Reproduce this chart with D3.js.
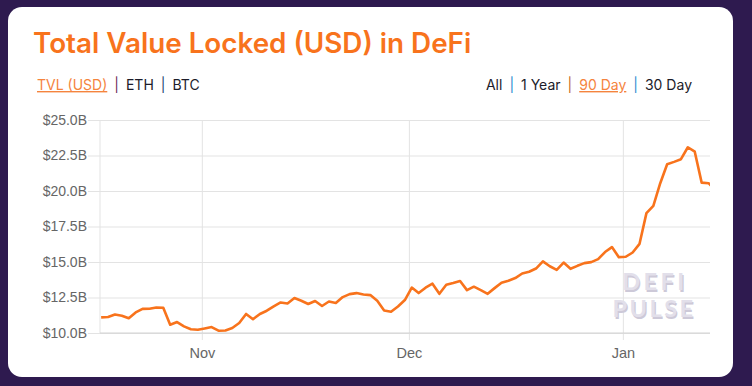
<!DOCTYPE html>
<html>
<head>
<meta charset="utf-8">
<script src="https://cdn.jsdelivr.net/npm/d3@7"></script>
<style>
  html, body { margin: 0; padding: 0; background: #2e1a4f; }
  svg { display: block; }
</style>
</head>
<body>
<svg id="chart-svg"></svg>
<script>
// Total value locked in DeFi, billions USD, one reading per day from Oct 17 2020
const firstDay = Date.UTC(2020, 9, 17, 10)
const tvl = [
  11.10, 11.13, 11.30, 11.22, 11.04, 11.45, 11.70, 11.71, 11.80, 11.78,
  10.58, 10.77, 10.47, 10.26, 10.23, 10.32, 10.42, 10.16, 10.18, 10.35,
  10.70, 11.34, 10.97, 11.34, 11.57, 11.88, 12.15, 12.08, 12.46, 12.27,
  12.04, 12.25, 11.90, 12.22, 12.11, 12.53, 12.74, 12.81, 12.71, 12.67,
  12.27, 11.59, 11.50, 11.87, 12.32, 13.20, 12.81, 13.19, 13.47, 12.76,
  13.40, 13.52, 13.66, 13.02, 13.26, 13.02, 12.76, 13.16, 13.54, 13.68,
  13.87, 14.19, 14.31, 14.54, 15.04, 14.70, 14.45, 14.96, 14.52, 14.73,
  14.92, 14.99, 15.20, 15.70, 16.05, 15.34, 15.37, 15.67, 16.28, 18.44,
  18.95, 20.55, 21.88, 22.05, 22.24, 23.08, 22.77, 20.59, 20.55, 20.05
]
const yTicks = [10, 12.5, 15, 17.5, 20, 22.5, 25]
const monthTicks = [Date.UTC(2020, 10, 1), Date.UTC(2020, 11, 1), Date.UTC(2021, 0, 1)]
const monthLabels = ['Nov', 'Dec', 'Jan']
const currencyLinks = ['TVL (USD)', 'ETH', 'BTC']
const rangeLinks = ['All', '1 Year', '90 Day', '30 Day']

const W = 752, H = 386
const Margin = { Top: 120, Bottom: 333, Left: 100, Right: 710 }
const orange = '#f8731c'

const data = tvl.map((v, i) => ({ date: new Date(firstDay + i * 864e5), value: v }))

const svg = d3.select('#chart-svg').attr('width', W).attr('height', H)

// card
svg.append('rect')
  .attr('x', 8).attr('y', 7).attr('width', 725).attr('height', 370)
  .attr('rx', 14).attr('fill', '#fff')

// title
svg.append('text')
  .attr('x', 33).attr('y', 53)
  .style('font-family', 'Inter, sans-serif').style('font-weight', 600).style('font-size', '27.8px')
  .attr('fill', orange)
  .text('Total Value Locked (USD) in DeFi')

// link rows
function linkRow(items, x, anchor, active, sepColors) {
  const t = svg.append('text')
    .attr('x', x).attr('y', 90)
    .attr('text-anchor', anchor)
    .style('font-family', 'Inter, sans-serif').style('font-size', '14px')
    .style('white-space', 'pre')
  items.forEach((s, i) => {
    if (i > 0) {
      t.append('tspan').attr('fill', sepColors[i - 1]).text('\u2002|\u2002')
    }
    t.append('tspan')
      .attr('fill', i === active ? '#f5843e' : '#1c1c2a')
      .style('text-decoration', i === active ? 'underline' : 'none')
      .text(s)
  })
}
linkRow(currencyLinks, 37, 'start', 0, ['#6b2b5c', '#233a6e'])
linkRow(rangeLinks, 692, 'end', 2, ['#2a8bd0', '#c46a1e', '#2a8bd0'])

const x = d3.scaleUtc()
  .domain([Date.UTC(2020, 9, 17, 6), Date.UTC(2021, 0, 13, 15)])
  .range([Margin.Left, Margin.Right])

const y = d3.scaleLinear()
  .domain([10, 25])
  .range([Margin.Bottom, Margin.Top])

// y grid + labels
const yAxis = svg.append('g')
  .attr('transform', 'translate(' + Margin.Right + ',0)')
  .call(d3.axisLeft(y).tickValues(yTicks).tickSize(Margin.Right - 88).tickPadding(1)
    .tickFormat(d => '$' + d3.format('.1f')(d) + 'B'))
yAxis.select('.domain').remove()
yAxis.selectAll('line').attr('stroke', '#e3e3e3').attr('stroke-width', 1)
yAxis.selectAll('text')
  .attr('fill', '#666').style('font-family', 'Liberation Sans, Arial, sans-serif').style('font-size', '14px')

// x grid + labels
const xAxis = svg.append('g')
  .attr('transform', 'translate(0,' + Margin.Top + ')')
  .call(d3.axisBottom(x).tickValues(monthTicks).tickSize(Margin.Bottom - Margin.Top + 7).tickPadding(8)
    .tickFormat((d, i) => monthLabels[i]))
xAxis.select('.domain').remove()
xAxis.selectAll('line').attr('stroke', '#e3e3e3')
xAxis.selectAll('text')
  .attr('fill', '#666').style('font-family', 'Liberation Sans, Arial, sans-serif').style('font-size', '14.5px')

// left and bottom axis lines
svg.append('line')
  .attr('x1', Margin.Left).attr('x2', Margin.Left).attr('y1', Margin.Top).attr('y2', Margin.Bottom)
  .attr('stroke', '#e3e3e3')
svg.append('line')
  .attr('x1', Margin.Left).attr('x2', Margin.Right).attr('y1', y(10)).attr('y2', y(10))
  .attr('stroke', '#d2d2d2')

// watermark
const mark = [['DEFI', 655, 290, '3.5px'], ['PULSE', 654, 317, '2.5px']]
mark.forEach(([s, mx, my, ls]) => {
  ;[['#cdc9d8', 1.2, 1.5], ['#e2dfea', 0, 0]].forEach(([c, dx, dy]) => {
    svg.append('text')
      .attr('x', mx + dx).attr('y', my + dy).attr('text-anchor', 'middle')
      .style('font-family', 'Lato, sans-serif').style('font-weight', 700).style('font-size', '23.5px')
      .style('letter-spacing', ls)
      .attr('fill', c)
      .text(s)
  })
})

// line
svg.append('clipPath').attr('id', 'plot-clip')
  .append('rect').attr('x', Margin.Left).attr('y', 0).attr('width', Margin.Right - Margin.Left).attr('height', H)

const valueLine = d3.line()
  .x(d => x(d.date))
  .y(d => y(d.value))

svg.append('path')
  .datum(data)
  .attr('clip-path', 'url(#plot-clip)')
  .attr('fill', 'none')
  .attr('stroke', orange)
  .attr('stroke-width', 2.6)
  .attr('stroke-linejoin', 'round')
  .attr('d', valueLine)
</script>
</body>
</html>
